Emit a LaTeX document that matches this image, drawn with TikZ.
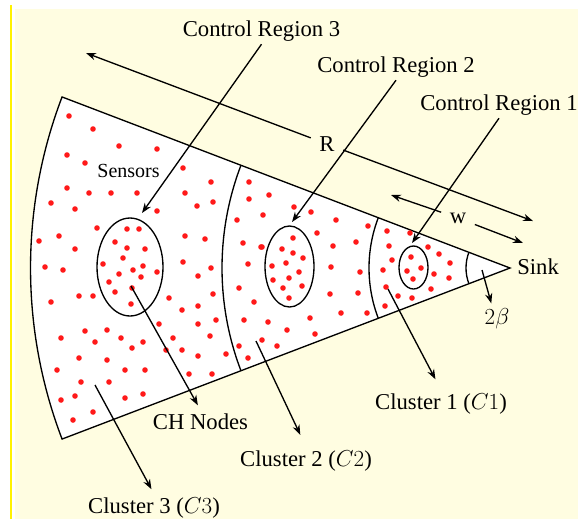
\documentclass[tikz,border=0pt]{standalone}
\usepackage{fontspec}
\setmainfont{Liberation Serif}
\usetikzlibrary{arrows.meta}
\definecolor{paper}{RGB}{255,253,225}
\definecolor{dotred}{RGB}{255,25,25}

\begin{document}
\begin{tikzpicture}[x=0.75pt, y=-0.75pt, >={Stealth[length=7.5pt,width=5.5pt]}, line width=1pt,
  lbl/.style={font=\fontsize{17}{20}\selectfont, inner sep=2pt},
  sensor/.style={fill=dotred, draw=none}]
  % page and yellow paper
  \useasboundingbox (0,0) rectangle (578,519);
  \fill[white] (0,0) rectangle (578,519);
  \fill[paper] (15,9) rectangle (578,519);
  \fill[yellow] (10,5) rectangle (12,519);

  % the sector with its cluster borders
  \coordinate (apex) at (510,268);
  \draw[fill=white] (apex) -- ++(200.9:479.5) arc[start angle=200.9, end angle=159.1, radius=479.5] -- cycle;
  \draw (apex) ++(200.9:288) arc[start angle=200.9, end angle=159.1, radius=288];
  \draw (apex) ++(200.9:141) arc[start angle=200.9, end angle=159.1, radius=141];
  \draw (apex) ++(200.9:44) arc[start angle=200.9, end angle=159.1, radius=44];

  % sensors
  \foreach \p in {(69,116),(93,129),(119,146),(157,149),(67,155),(85,163),(183,168),(211,182),
    (67,188),(89,193),(111,193),(137,193),(185,193),(51,203),(75,209),(213,202),(197,206),
    (157,211),(97,228),(39,241),(59,236),(75,249),(185,236),(205,239),(127,229),(139,229),
    (115,242),(127,248),(145,249),(123,258),(45,267),(63,270),(103,264),(143,266),(119,274),
    (133,270),(157,272),(141,277),(109,282),(115,292),(132,288),(131,304),(183,262),(198,276),
    (211,268),(213,294),(169,298),(182,310),(198,306),(51,302),(79,296),(93,296),(61,338),
    (85,331),(95,342),(107,330),(121,338),(143,342),(132,348),(79,358),(107,360),(57,370),
    (81,382),(109,382),(125,370),(145,370),(61,400),(75,396),(93,412),(73,420),(125,398),
    (143,394),(159,324),(173,338),(166,350),(182,350),(198,356),(210,336),(216,320),(198,324),
    (226,354),(189,374),(212,374)}
    \fill[sensor] \p circle[radius=2.8];
  \foreach \p in {(249,182),(269,195),(249,199),(263,215),(237,220),(243,243),(262,247),
    (248,264),(239,288),(254,302),(244,320),(268,322),(239,346),(262,340),(248,358),(277,346),
    (287,330),(294,207),(311,212),(336,220),(368,226),(317,233),(356,242),(333,246),(261,247),
    (293,238),(282,249),(293,253),(303,258),(272,266),(286,263),(299,272),(273,280),(289,278),
    (283,288),(302,286),(289,298),(331,267),(360,272),(330,294),(358,293),(341,313),(310,318),
    (367,313),(315,334)}
    \fill[sensor] \p circle[radius=2.8];
  \foreach \p in {(387,231),(410,233),(389,246),(428,247),(392,260),(383,270),(386,287),
    (398,296),(412,298),(385,306),(431,289),(434,274),(439,254),(450,263),(449,278),
    (411,257),(407,271),(421,268),(413,279)}
    \fill[sensor] \p circle[radius=2.8];

  % control regions
  \draw (130,267) ellipse[x radius=33, y radius=49];
  \draw (289.5,266.5) ellipse[x radius=24.5, y radius=40.5];
  \draw (413.5,267.5) ellipse[x radius=14.5, y radius=21.5];

  % labels
  \node[lbl, anchor=base] (cr3) at (261.5,36) {Control Region 3};
  \node[lbl, anchor=base] (cr2) at (396,72) {Control Region 2};
  \node[lbl, anchor=base] (cr1) at (499,110) {Control Region 1};
  \node[lbl, anchor=base, font=\fontsize{15}{18}\selectfont] (sens) at (128.5,177) {Sensors};
  \node[lbl, anchor=base] (chn) at (200.5,429) {CH Nodes};
  \node[lbl, anchor=base] (c3) at (154,513) {Cluster 3 ($C3$)};
  \node[lbl, anchor=base] (c2) at (306,466) {Cluster 2 ($C2$)};
  \node[lbl, anchor=base] (c1) at (441,409) {Cluster 1 ($C1$)};
  \node[lbl, anchor=base west] (sink) at (514,274) {Sink};
  \node[lbl, anchor=base] (tb) at (497,324) {$2\beta$};
  \node[lbl, inner sep=6pt] (rlen) at (327,144) {R};
  \node[lbl, inner sep=6pt] (wlen) at (458,218) {w};

  % arrows
  \coordinate (rleft) at (86,53);
  \coordinate (rright) at (533,221);
  \coordinate (wleft) at (391,195);
  \coordinate (wright) at (523,243);
  \coordinate (cr3tip) at (142,213);
  \coordinate (cr2tip) at (292,222);
  \coordinate (cr1tip) at (412,243);
  \coordinate (chsrc) at (131,286);
  \coordinate (c3src) at (95,385);
  \coordinate (c2src) at (256,341);
  \coordinate (c1src) at (388,289);
  \coordinate (tbsrc) at (482,270);

  \draw[->] (rlen) -- (rleft);
  \draw[->] (rlen) -- (rright);
  \draw[->] (wlen) -- (wleft);
  \draw[->] (wlen) -- (wright);
  \draw[->] (cr3.south) -- (cr3tip);
  \draw[->] (cr2.south) -- (cr2tip);
  \draw[->] (cr1.south) -- (cr1tip);
  \draw[->, shorten >=4pt] (chsrc) -- (chn.north);
  \draw[->, shorten >=4pt] (c3src) -- (c3.north);
  \draw[->, shorten >=10pt] (c2src) -- (c2.north);
  \draw[->, shorten >=9pt] (c1src) -- (c1.north);
  \draw[->, shorten >=1pt] (tbsrc) -- ([xshift=-4pt]tb.north);
\end{tikzpicture}
\end{document}
